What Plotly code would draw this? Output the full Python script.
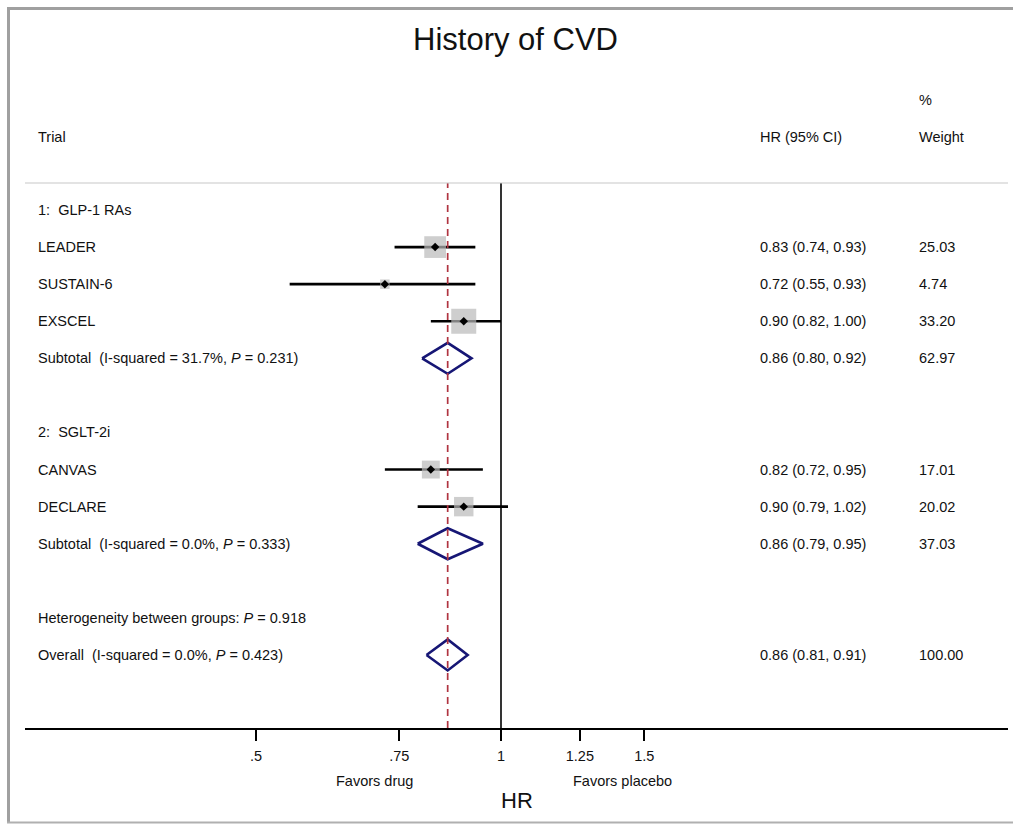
import math
import plotly.graph_objects as go

# ---------------- data ----------------
trials = ["LEADER", "SUSTAIN-6", "EXSCEL", "CANVAS", "DECLARE"]
trial_rows = [1, 2, 3, 7, 8]
hr = [0.83, 0.72, 0.90, 0.82, 0.90]
ci_lo = [0.74, 0.55, 0.82, 0.72, 0.79]
ci_hi = [0.93, 0.93, 1.00, 0.95, 1.02]
weights = [25.03, 4.74, 33.20, 17.01, 20.02]

group_labels = ["1:\u00a0 GLP-1 RAs", "2:\u00a0 SGLT-2i"]
group_rows = [0, 6]

pooled_labels = [
    "Subtotal\u00a0 (I-squared = 31.7%, <i>P</i> = 0.231)",
    "Subtotal\u00a0 (I-squared = 0.0%, <i>P</i> = 0.333)",
    "Overall\u00a0 (I-squared = 0.0%, <i>P</i> = 0.423)",
]
pooled_rows = [4, 9, 12]
pooled_hr = [0.86, 0.86, 0.86]
pooled_lo = [0.80, 0.79, 0.81]
pooled_hi = [0.92, 0.95, 0.91]
pooled_w = [62.97, 37.03, 100.00]

het_label = "Heterogeneity between groups: <i>P</i> = 0.918"
het_row = 11

overall_hr = 0.86
tick_vals = [0.5, 0.75, 1, 1.25, 1.5]
tick_text = [".5", ".75", "1", "1.25", "1.5"]

# ---------------- layout geometry (pixels) ----------------
W, H = 1013, 825
L, R, T, B = 25, 5, 183, 97
PW, PH = W - L - R, H - T - B
row0_px, row_step = 210, 37.08
PX_PER_LOG10 = 814.0
one_px = 501
xa = -(one_px - L) / PX_PER_LOG10
xb = xa + PW / PX_PER_LOG10
y_top = (T - row0_px) / row_step
y_bot = (H - B - row0_px) / row_step


def px_x(p):
    return (p - L) / PW


def px_y(p):
    return (H - B - p) / PH


FONT = "Liberation Sans, Arial, sans-serif"
TXT = "#111111"
FS = 14.5
NAVY = "#161675"
fig = go.Figure()

# CI lines
for i in range(len(trials)):
    fig.add_trace(go.Scatter(x=[ci_lo[i], ci_hi[i]], y=[trial_rows[i]] * 2, mode="lines",
                             line=dict(color="black", width=2.6), hoverinfo="skip", showlegend=False))
# weight squares
fig.add_trace(go.Scatter(x=hr, y=trial_rows, mode="markers",
                         marker=dict(symbol="square", color="#b9b9b9",
                                     size=[4.34 * math.sqrt(w) for w in weights], line=dict(width=0)),
                         hoverinfo="skip", showlegend=False))
# point estimates
fig.add_trace(go.Scatter(x=hr, y=trial_rows, mode="markers",
                         marker=dict(symbol="diamond", color="black", size=6.5, line=dict(width=0)),
                         hoverinfo="skip", showlegend=False))
# pooled diamonds
dh = 15.5 / row_step
for k in range(len(pooled_rows)):
    r = pooled_rows[k]
    fig.add_trace(go.Scatter(
        x=[pooled_lo[k], pooled_hr[k], pooled_hi[k], pooled_hr[k], pooled_lo[k]],
        y=[r, r - dh, r, r + dh, r], mode="lines",
        line=dict(color=NAVY, width=2.6), hoverinfo="skip", showlegend=False))

shapes = []
# null line
shapes.append(dict(type="line", xref="x", yref="paper", x0=1, x1=1, y0=0, y1=1,
                   line=dict(color="black", width=1.6), layer="above"))
# overall estimate dashed line
shapes.append(dict(type="line", xref="x", yref="paper", x0=overall_hr, x1=overall_hr, y0=0, y1=1,
                   line=dict(color="#b03440", width=1.7, dash="7px,5px"), layer="above"))
# header separator
shapes.append(dict(type="line", xref="paper", yref="paper", x0=0, x1=1, y0=1, y1=1,
                   line=dict(color="#c8c8c8", width=1.2)))
# outer frame (left, top, bottom)
shapes.append(dict(type="line", xref="paper", yref="paper", x0=px_x(8.5), x1=px_x(8.5),
                   y0=px_y(8.5), y1=px_y(822.5), line=dict(color="#a0a0a0", width=3)))
shapes.append(dict(type="line", xref="paper", yref="paper", x0=px_x(7), x1=px_x(1015),
                   y0=px_y(8.5), y1=px_y(8.5), line=dict(color="#a0a0a0", width=3)))
shapes.append(dict(type="line", xref="paper", yref="paper", x0=px_x(7), x1=px_x(1015),
                   y0=px_y(822.5), y1=px_y(822.5), line=dict(color="#b0b0b0", width=2)))

ann = []


def add_text(text, x, y, yref="y", size=FS, xanchor="left"):
    ann.append(dict(text=text, x=x, y=y, xref="paper", yref=yref, xanchor=xanchor,
                    yanchor="middle", showarrow=False, font=dict(family=FONT, size=size, color=TXT)))


x_left = px_x(36)
x_ci = px_x(758)
x_w = px_x(917)

# headers
add_text("History of CVD", px_x(515), px_y(40), yref="paper", size=31, xanchor="center")
add_text("%", x_w, px_y(100), yref="paper")
add_text("Trial", x_left, px_y(137), yref="paper")
add_text("HR (95% CI)", x_ci, px_y(137), yref="paper")
add_text("Weight", x_w, px_y(137), yref="paper")

for g, r in zip(group_labels, group_rows):
    add_text(g, x_left, r)
for i in range(len(trials)):
    add_text(trials[i], x_left, trial_rows[i])
    add_text(f"{hr[i]:.2f} ({ci_lo[i]:.2f}, {ci_hi[i]:.2f})", x_ci, trial_rows[i])
    add_text(f"{weights[i]:.2f}", x_w, trial_rows[i])
for k in range(len(pooled_rows)):
    add_text(pooled_labels[k], x_left, pooled_rows[k])
    add_text(f"{pooled_hr[k]:.2f} ({pooled_lo[k]:.2f}, {pooled_hi[k]:.2f})", x_ci, pooled_rows[k])
    add_text(f"{pooled_w[k]:.2f}", x_w, pooled_rows[k])
add_text(het_label, x_left, het_row)

# axis annotations
add_text("Favors drug", px_x(374), px_y(781), yref="paper", xanchor="center")
add_text("Favors placebo", px_x(622), px_y(781), yref="paper", xanchor="center")
add_text("HR", px_x(517), px_y(800), yref="paper", size=22, xanchor="center")

fig.update_layout(
    width=W, height=H,
    margin=dict(l=L, r=R, t=T, b=B, autoexpand=False),
    paper_bgcolor="white", plot_bgcolor="white",
    showlegend=False,
    shapes=shapes, annotations=ann,
    xaxis=dict(type="log", range=[xa, xb], tickvals=tick_vals, ticktext=tick_text,
               ticks="outside", ticklen=11, tickwidth=2, tickcolor="black",
               showline=True, linewidth=2, linecolor="black", showgrid=False, zeroline=False,
               automargin=False, fixedrange=True, ticklabelstandoff=3,
               tickfont=dict(family=FONT, size=FS, color=TXT)),
    yaxis=dict(range=[y_bot, y_top], visible=False, showgrid=False, zeroline=False,
               automargin=False, fixedrange=True),
)

fig.write_html("out.html")
